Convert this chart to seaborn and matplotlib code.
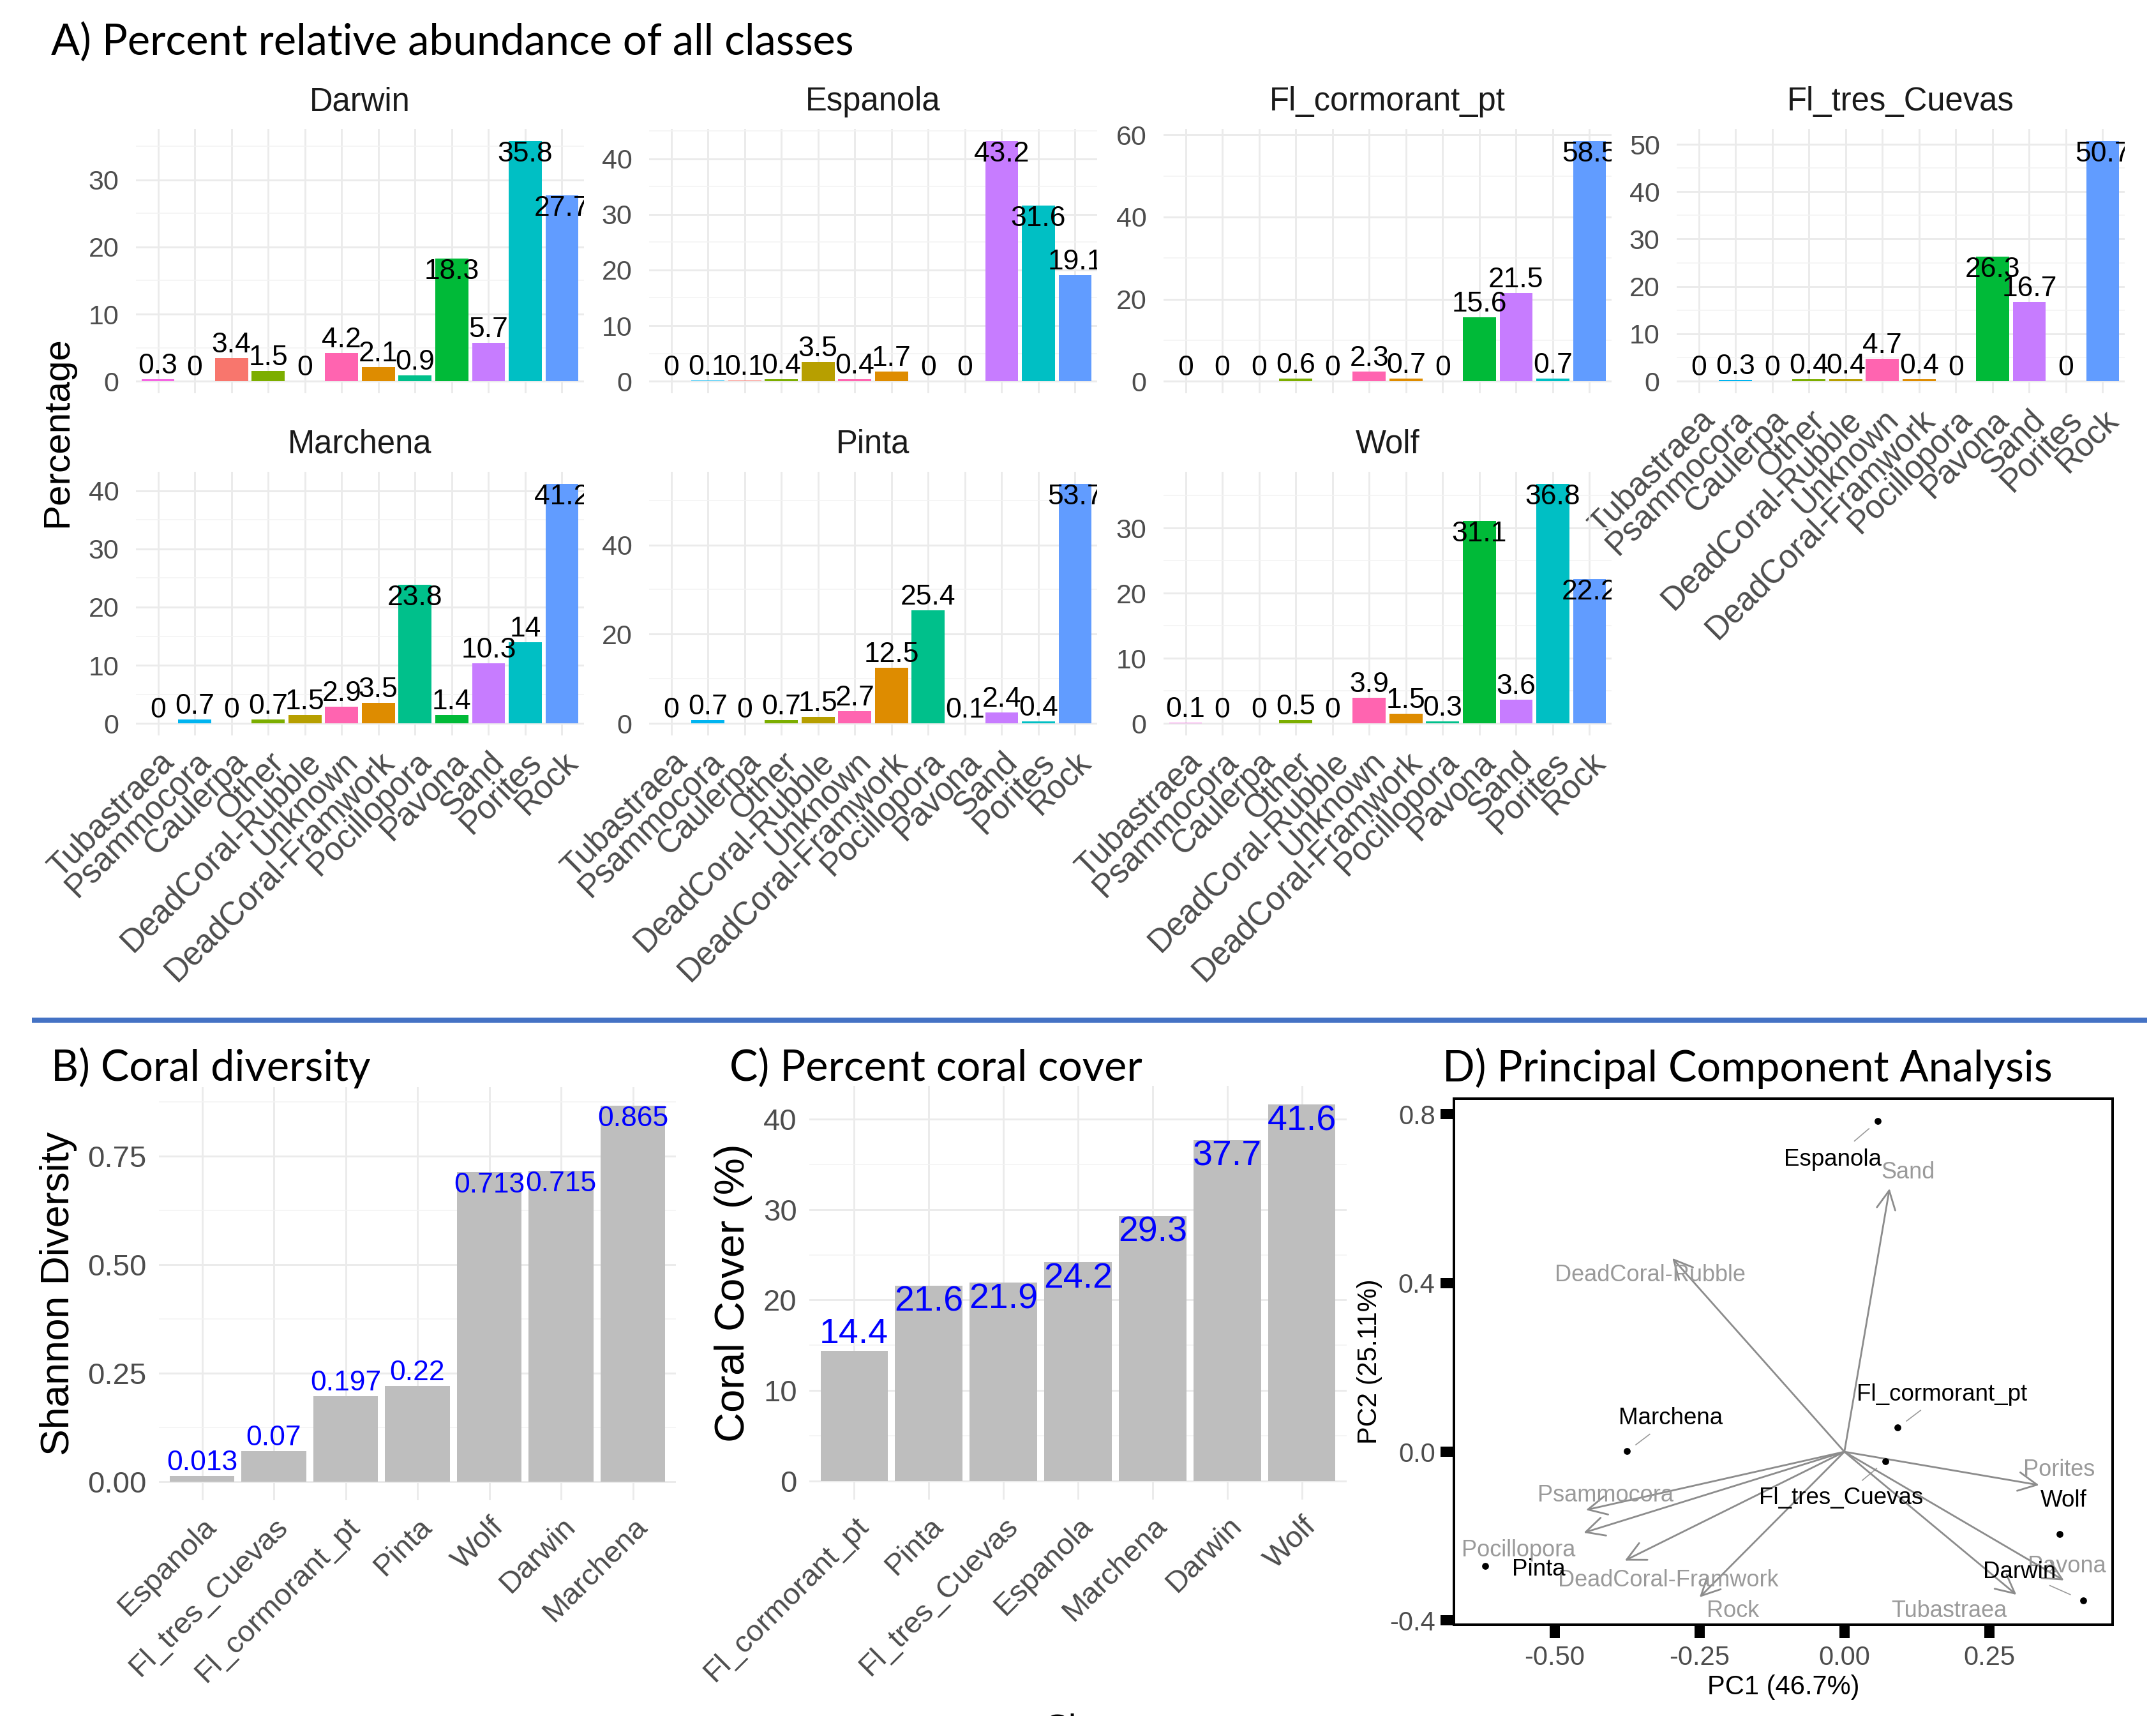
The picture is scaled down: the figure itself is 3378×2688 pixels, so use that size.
import numpy as np
import pandas as pd
import matplotlib
matplotlib.use("Agg")
import matplotlib.pyplot as plt
import seaborn as sns
from matplotlib.ticker import MultipleLocator, FixedLocator, FormatStrFormatter
from matplotlib.lines import Line2D

# ---- data -------------------------------------------------------------
classes = ["Tubastraea", "Psammocora", "Caulerpa", "Other", "DeadCoral-Rubble",
           "Unknown", "DeadCoral-Framwork", "Pocillopora", "Pavona", "Sand",
           "Porites", "Rock"]
class_colors = ["#F564E3", "#00B4F0", "#F8766D", "#7CAE00", "#B79F00", "#FF64B0",
                "#DE8C00", "#00C08B", "#00BA38", "#C77CFF", "#00BFC4", "#619CFF"]

sites = ["Darwin", "Espanola", "Fl_cormorant_pt", "Fl_tres_Cuevas",
         "Marchena", "Pinta", "Wolf"]
darwin = [0.3, 0, 3.4, 1.5, 0.04, 4.2, 2.1, 0.9, 18.3, 5.7, 35.8, 27.7]
espanola = [0, 0.1, 0.1, 0.4, 3.5, 0.4, 1.7, 0, 0, 43.2, 31.6, 19.1]
fl_cormorant = [0.04, 0.04, 0, 0.6, 0, 2.3, 0.7, 0, 15.6, 21.5, 0.7, 58.5]
fl_tres = [0.04, 0.3, 0, 0.4, 0.4, 4.7, 0.4, 0.04, 26.3, 16.7, 0, 50.7]
marchena = [0, 0.7, 0, 0.7, 1.5, 2.9, 3.5, 23.8, 1.4, 10.3, 14, 41.2]
pinta = [0, 0.7, 0, 0.7, 1.5, 2.7, 12.5, 25.4, 0.1, 2.4, 0.4, 53.7]
wolf = [0.1, 0, 0, 0.5, 0, 3.9, 1.5, 0.3, 31.1, 3.6, 36.8, 22.2]
abund = [darwin, espanola, fl_cormorant, fl_tres, marchena, pinta, wolf]

div_sites = ["Espanola", "Fl_tres_Cuevas", "Fl_cormorant_pt", "Pinta", "Wolf", "Darwin", "Marchena"]
shannon = [0.013, 0.07, 0.197, 0.22, 0.713, 0.715, 0.865]

cover_sites = ["Fl_cormorant_pt", "Pinta", "Fl_tres_Cuevas", "Espanola", "Marchena", "Darwin", "Wolf"]
cover = [14.4, 21.6, 21.9, 24.2, 29.3, 37.7, 41.6]

pca_sites = ["Espanola", "Fl_cormorant_pt", "Fl_tres_Cuevas", "Marchena", "Pinta", "Wolf", "Darwin"]
pc1 = [0.058, 0.092, 0.071, -0.375, -0.620, 0.372, 0.412]
pc2 = [0.784, 0.057, -0.022, 0.001, -0.271, -0.195, -0.352]

load_names = ["Sand", "DeadCoral-Rubble", "Porites", "Psammocora", "Pocillopora",
              "DeadCoral-Framwork", "Rock", "Tubastraea", "Pavona"]
load1 = [0.078, -0.297, 0.336, -0.446, -0.450, -0.379, -0.250, 0.297, 0.379]
load2 = [0.624, 0.459, -0.079, -0.138, -0.192, -0.258, -0.345, -0.339, -0.305]

# repelled label positions (data units)
site_lab = {"Espanola": (-0.020, 0.693), "Fl_cormorant_pt": (0.168, 0.136),
            "Fl_tres_Cuevas": (-0.006, -0.110), "Marchena": (-0.300, 0.079),
            "Pinta": (-0.528, -0.279), "Wolf": (0.379, -0.116), "Darwin": (0.302, -0.285)}
load_lab = {"Sand": (0.110, 0.662), "DeadCoral-Rubble": (-0.335, 0.418),
            "Porites": (0.371, -0.043), "Psammocora": (-0.412, -0.103),
            "Pocillopora": (-0.562, -0.234), "DeadCoral-Framwork": (-0.304, -0.305),
            "Rock": (-0.192, -0.377), "Tubastraea": (0.181, -0.377), "Pavona": (0.384, -0.271)}

# ---- figure -----------------------------------------------------------
W, H = 3378, 2688
plt.rcParams['font.family'] = ['Liberation Sans', 'DejaVu Sans']
fig = plt.figure(figsize=(W / 100, H / 100), dpi=100)
PX = 72 / 100  # points per pixel
TICK = '#4D4D4D'
TITLE_FONT = ['Lato', 'DejaVu Sans']


def box(l, t, r, b):
    return [l / W, 1 - b / H, (r - l) / W, (b - t) / H]


def minimal(ax):
    for s in ax.spines.values():
        s.set_visible(False)
    ax.tick_params(which='both', length=0)
    ax.grid(which='major', color='#EBEBEB', lw=3 * PX)
    ax.grid(which='minor', axis='y', color='#F3F3F3', lw=1.6 * PX)
    ax.set_axisbelow(True)
    ax.patch.set_alpha(0)
    ax.set_xlabel('')
    ax.set_ylabel('')


def fmt(v):
    return f"{round(v, 1):g}"


# ---- A) facets ----------------------------------------------------------
col_x = [213, 1017, 1823, 2627]
panel_w = 702
row_y = [(202, 616), (739, 1152)]
steps = [10, 10, 20, 10, 10, 20, 10]

for i, (site, vals) in enumerate(zip(sites, abund)):
    r, c = divmod(i, 4)
    ax = fig.add_axes(box(col_x[c], row_y[r][0], col_x[c] + panel_w, row_y[r][1]))
    df = pd.DataFrame({"Class": classes, "Percentage": vals})
    sns.barplot(data=df, x="Class", y="Percentage", hue="Class", order=classes,
                hue_order=classes, palette=class_colors, saturation=1, width=0.9,
                legend=False, linewidth=0, ax=ax)
    m = max(vals)
    ax.set_xlim(-0.6, 11.6)
    ax.set_ylim(-0.05 * m, 1.05 * m)
    ax.yaxis.set_major_locator(MultipleLocator(steps[i]))
    ax.yaxis.set_minor_locator(MultipleLocator(steps[i] / 2))
    minimal(ax)
    ax.tick_params(axis='y', labelsize=31, labelcolor=TICK, pad=19)
    ax.set_title(site, fontsize=36.5, color='#1A1A1A', pad=29 * PX)
    if r == 1 or site == "Fl_tres_Cuevas":
        ax.set_xticks(range(len(classes)))
        ax.set_xticklabels(classes, rotation=45, ha='right', rotation_mode='anchor',
                           fontsize=36.5, color=TICK)
        ax.tick_params(axis='x', pad=12)
    else:
        ax.tick_params(axis='x', labelbottom=False)
    for k, v in enumerate(vals):
        va = 'top' if v > 0.5 * m else 'bottom'
        ax.text(k, v, fmt(v), ha='center', va=va, fontsize=32, color='black', clip_on=True)

fig.text(90 / W, 1 - 677 / H, "Percentage", rotation=90, fontsize=42,
         ha='center', va='center')
fig.text(80 / W, 1 - 86 / H, "A) Percent relative abundance of all classes",
         fontsize=48, family=TITLE_FONT, va='baseline')

# separator
fig.add_artist(Line2D([54 / W, 3360 / W], [1 - 1598 / H, 1 - 1598 / H],
                      color='#4472C4', lw=8 * PX))


# ---- B) & C) grey bars ----------------------------------------------------
def grey_bars(ax, names, vals, step, ylabel, ylab_size, lab_size, decimals):
    df = pd.DataFrame({"Site": names, "val": vals})
    sns.barplot(data=df, x="Site", y="val", order=names, color='#BEBEBE',
                saturation=1, width=0.9, linewidth=0, ax=ax)
    m = max(vals)
    ax.set_xlim(-0.6, len(names) - 0.4)
    ax.set_ylim(-0.05 * m, 1.05 * m)
    ax.yaxis.set_major_locator(MultipleLocator(step))
    ax.yaxis.set_minor_locator(MultipleLocator(step / 2))
    if decimals:
        ax.yaxis.set_major_formatter(FormatStrFormatter('%.2f'))
    minimal(ax)
    ax.tick_params(axis='y', labelsize=34, labelcolor=TICK, pad=14)
    ax.set_xticks(range(len(names)))
    ax.set_xticklabels(names, rotation=45, ha='right', rotation_mode='anchor',
                       fontsize=34, color=TICK)
    ax.tick_params(axis='x', pad=14)
    ax.set_ylabel(ylabel, fontsize=ylab_size, labelpad=12)
    for k, v in enumerate(vals):
        va = 'top' if v > 0.5 * m else 'bottom'
        ax.text(k, v, f"{v:g}", ha='center', va=va, fontsize=lab_size,
                color='#0000FF', clip_on=True)


axb = fig.add_axes(box(249, 1703, 1059, 2350))
grey_bars(axb, div_sites, shannon, 0.25, "Shannon Diversity", 45, 32, True)
fig.text(80 / W, 1 - 1693 / H, "B) Coral diversity", fontsize=48,
         family=TITLE_FONT, va='baseline')

axc = fig.add_axes(box(1268, 1701, 2110, 2349))
grey_bars(axc, cover_sites, cover, 10, "Coral Cover (%)", 47, 40, False)
fig.text(1143 / W, 1 - 1693 / H, "C) Percent coral cover", fontsize=48,
         family=TITLE_FONT, va='baseline')
fig.text(1685 / W, 1 - 2683 / H, "Site", fontsize=40, ha='center', va='top')

# ---- D) PCA biplot ---------------------------------------------------------
axd = fig.add_axes(box(2278, 1721, 3310, 2545))
arrow_col = '#8C8C8C'
for name, lx, ly in zip(load_names, load1, load2):
    axd.annotate('', xy=(lx, ly), xytext=(0, 0),
                 arrowprops=dict(arrowstyle='->,head_length=0.7,head_width=0.35',
                                 color=arrow_col, lw=2 * PX * 1.4, shrinkA=0, shrinkB=0,
                                 mutation_scale=30))
for name in load_names:
    tx, ty = load_lab[name]
    axd.text(tx, ty, name, fontsize=26, color='#9A9A9A', ha='center', va='center')

sns.scatterplot(x=pc1, y=pc2, color='black', s=60, linewidth=0, ax=axd, zorder=3)
for name, x, y in zip(pca_sites, pc1, pc2):
    tx, ty = site_lab[name]
    if np.hypot(tx - x, ty - y) > 0.1:
        axd.plot([x + 0.2 * (tx - x), x + 0.52 * (tx - x)],
                 [y + 0.2 * (ty - y), y + 0.52 * (ty - y)], color='#9A9A9A', lw=1.2)
    axd.text(tx, ty, name, fontsize=26.5, color='black', ha='center', va='center', zorder=4)

axd.set_xlim(-0.674, 0.463)
axd.set_ylim(-0.41, 0.837)
axd.xaxis.set_major_locator(FixedLocator([-0.5, -0.25, 0, 0.25]))
axd.xaxis.set_major_formatter(FormatStrFormatter('%.2f'))
axd.yaxis.set_major_locator(FixedLocator([-0.4, 0, 0.4, 0.8]))
axd.yaxis.set_major_formatter(FormatStrFormatter('%.1f'))
for s in axd.spines.values():
    s.set_color('black')
    s.set_linewidth(4 * PX)
axd.tick_params(which='major', direction='out', length=21 * PX, width=16 * PX,
                color='black', labelsize=30, labelcolor=TICK)
axd.tick_params(axis='x', pad=8)
axd.tick_params(axis='y', pad=6)
axd.set_xlabel("PC1 (46.7%)", fontsize=30, labelpad=4)
axd.set_ylabel("PC2 (25.11%)", fontsize=30, labelpad=8)
fig.text(2260 / W, 1 - 1694 / H, "D) Principal Component Analysis", fontsize=48,
         family=TITLE_FONT, va='baseline')

fig.savefig("out.png", dpi=100, facecolor='white')
